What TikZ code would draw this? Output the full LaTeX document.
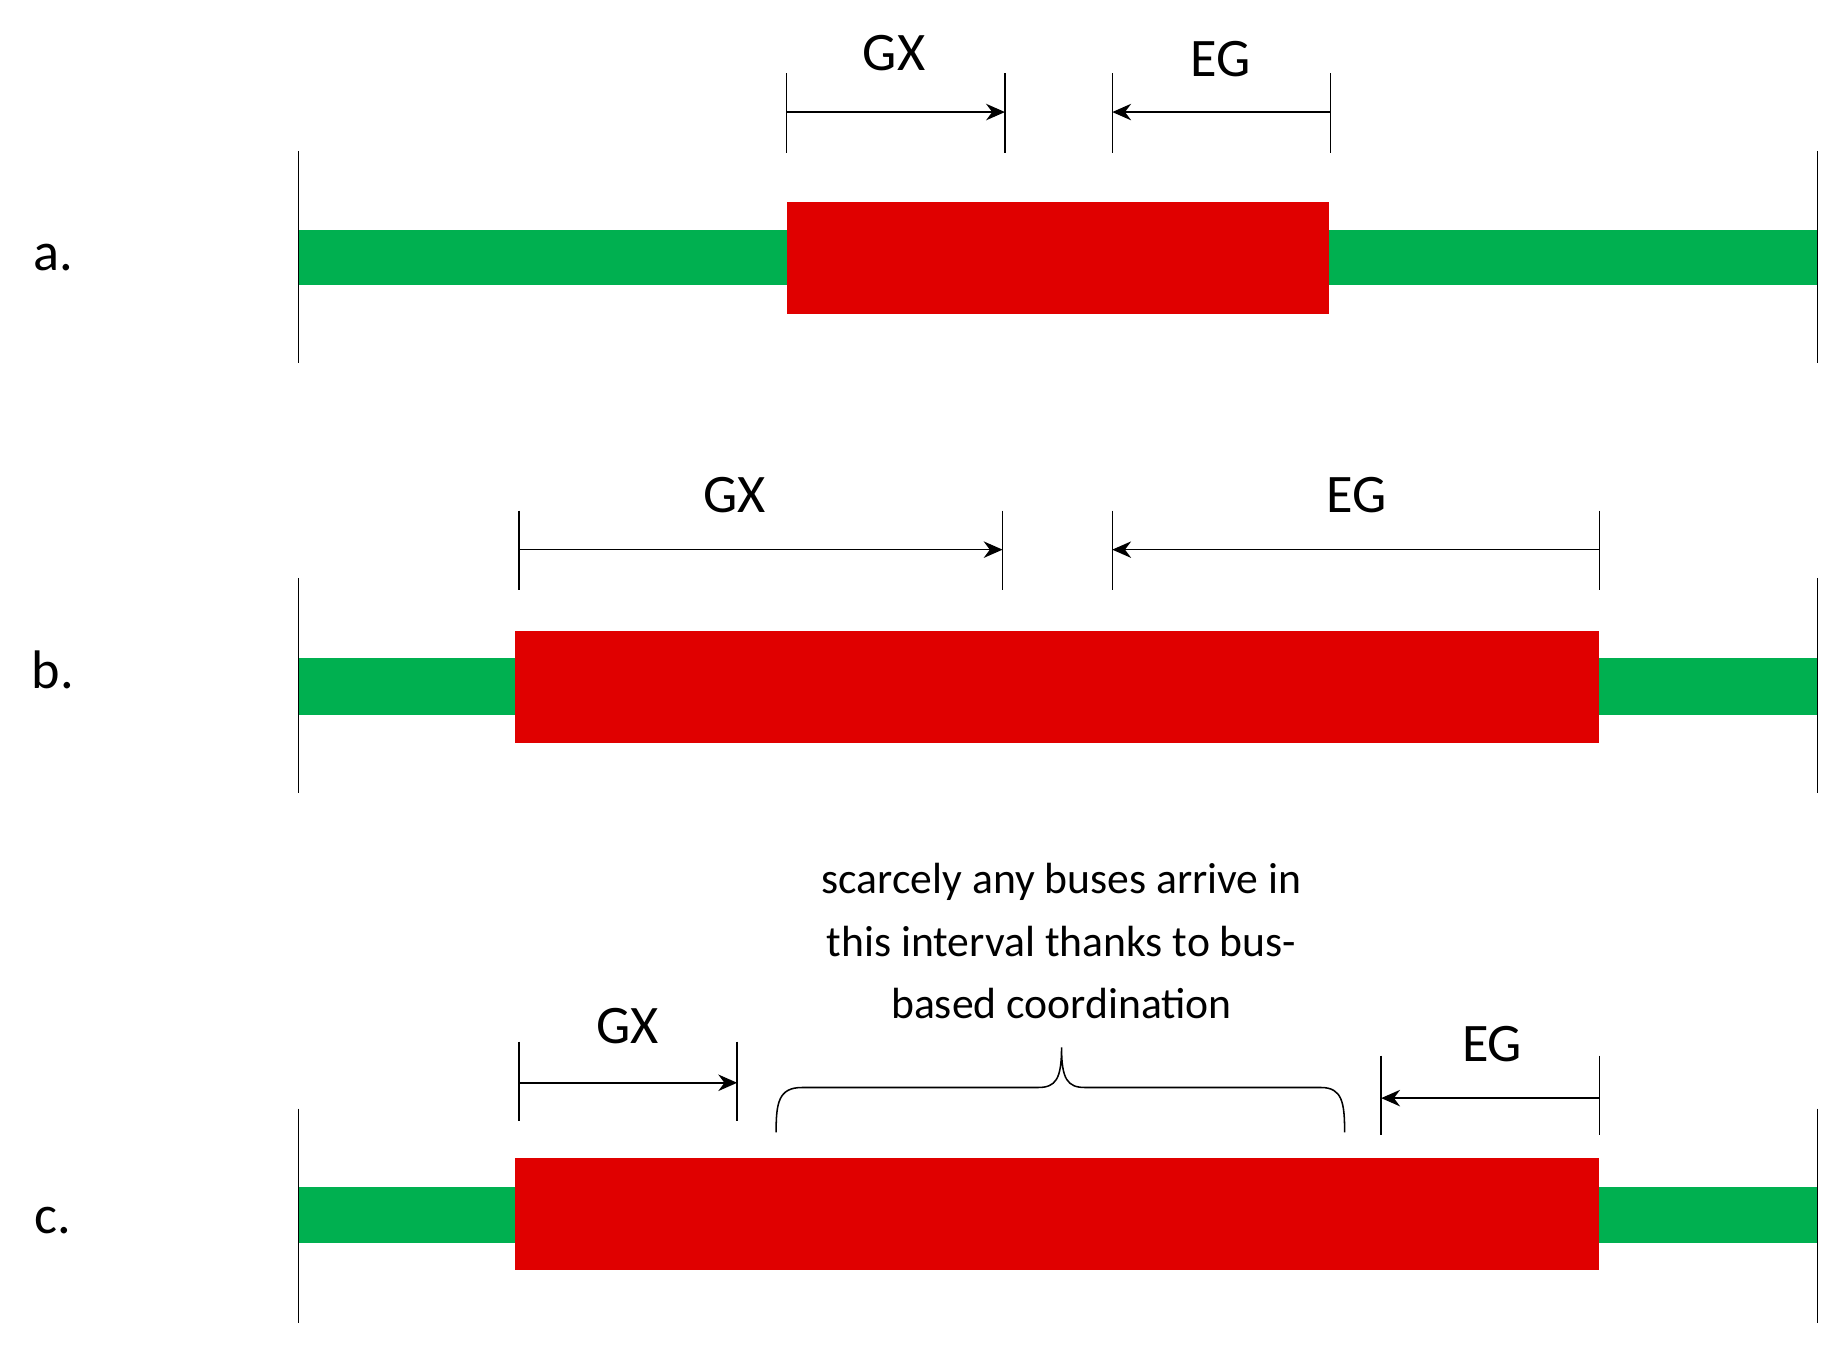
\documentclass[tikz,border=0pt]{standalone}
\usepackage{fontspec}
\setmainfont{Carlito}
\usetikzlibrary{arrows.meta}
\definecolor{gr}{RGB}{0,176,80}
\definecolor{rd}{RGB}{224,0,0}
\begin{document}
\begin{tikzpicture}[x=1pt,y=-1pt,
  ln/.style={line width=1.3pt,black},
  dim/.style={line width=1.3pt,-{Stealth[length=16pt,width=14pt]}},
  big/.style={font=\fontsize{46}{55}\selectfont},
  lab/.style={font=\fontsize{46}{55}\selectfont},
  note/.style={font=\fontsize{37}{53}\selectfont,align=center}]
\useasboundingbox (0,0) rectangle (1560,1144);
% row a
\fill[gr] (253,195) rectangle (1541,242);
\fill[rd] (667,171) rectangle (1127,266);
\draw[ln] (253,128) -- (253,308) (1541,128) -- (1541,308);
\node[lab] (la) at (45,218) {a.};
\coordinate (a1) at (667,95); \coordinate (a2) at (852,95);
\coordinate (a3) at (943,95); \coordinate (a4) at (1128,95);
\draw[ln] (667,62) -- (667,130) (852,62) -- (852,130) (943,62) -- (943,130) (1128,62) -- (1128,130);
\draw[dim] (a1) -- (a2); \draw[dim] (a4) -- (a3);
\node[big] (gxa) at (758,45) {GX};
\node[big] (ega) at (1035,50) {EG};
% row b
\fill[gr] (253,558) rectangle (1541,606);
\fill[rd] (437,535) rectangle (1356,630);
\draw[ln] (253,490) -- (253,672) (1541,490) -- (1541,672);
\node[lab] (lb) at (45,568) {b.};
\coordinate (b1) at (440,466); \coordinate (b2) at (850,466);
\coordinate (b3) at (943,466); \coordinate (b4) at (1356,466);
\draw[ln] (440,433) -- (440,500) (850,433) -- (850,500) (943,433) -- (943,500) (1356,433) -- (1356,500);
\draw[dim] (b1) -- (b2); \draw[dim] (b4) -- (b3);
\node[big] (gxb) at (623,420) {GX};
\node[big] (egb) at (1150,420) {EG};
% row c
\fill[gr] (253,1006) rectangle (1541,1054);
\fill[rd] (437,982) rectangle (1356,1077);
\draw[ln] (253,940) -- (253,1122) (1541,940) -- (1541,1122);
\node[lab] (lc) at (45,1035) {c.};
\coordinate (c1) at (440,918); \coordinate (c2) at (625,918);
\coordinate (c3) at (1171,931); \coordinate (c4) at (1356,931);
\draw[ln] (440,883) -- (440,950) (625,883) -- (625,950) (1171,895) -- (1171,962) (1356,895) -- (1356,962);
\draw[dim] (c1) -- (c2); \draw[dim] (c4) -- (c3);
\node[big] (gxc) at (532,870) {GX};
\node[big] (egc) at (1265,885) {EG};
\draw[ln] (658,960) .. controls (658,935) and (660,922) .. (680,922) -- (880,922)
  .. controls (895,922) and (900,915) .. (900,888)
  .. controls (900,915) and (905,922) .. (920,922) -- (1120,922)
  .. controls (1138,922) and (1140,935) .. (1140,960);
\node[note] (nt) at (900,798) {scarcely any buses arrive in\\this interval thanks to bus-\\based coordination};
\end{tikzpicture}
\end{document}
